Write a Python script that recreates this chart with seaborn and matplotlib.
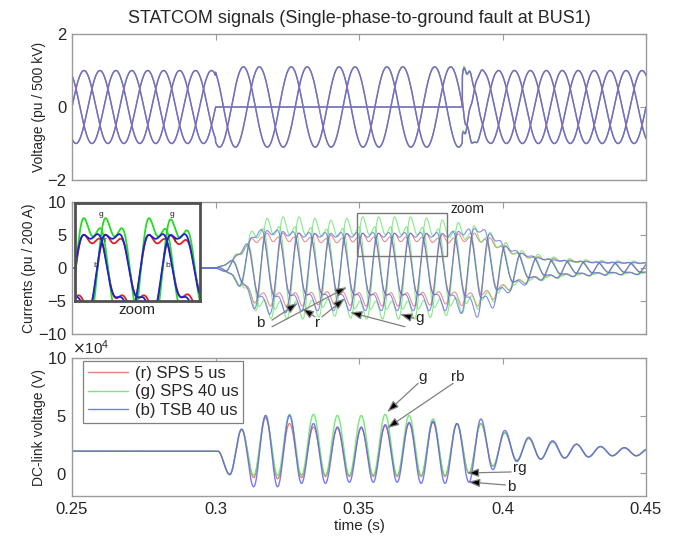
import numpy as np
import pandas as pd
import matplotlib
matplotlib.use("Agg")
import matplotlib.pyplot as plt
import seaborn as sns
from matplotlib.patches import Rectangle
from matplotlib.ticker import ScalarFormatter

sns.set_style("white")
plt.rcParams['font.family'] = ['Liberation Sans', 'DejaVu Sans']

# ------------------------------------------------------------------ data
series_keys = ["r", "g", "b"]
series_names = ["(r) SPS 5 us", "(g) SPS 40 us", "(b) TSB 40 us"]
series_colors = ["#e46a6a", "#5ee65e", "#6262ee"]
title = "STATCOM signals (Single-phase-to-ground fault at BUS1)"
ylabels = ["Voltage (pu / 500 kV)", "Currents (pu / 200 A)", "DC-link voltage (V)"]
xlabel = "time (s)"
xticks = [0.25, 0.30, 0.35, 0.40, 0.45]
xtick_labels = ["0.25", "0.3", "0.35", "0.4", "0.45"]

f_grid = 60.0
t_start, t_end = 0.25, 0.45
fault_on, fault_off = 0.300, 0.386

# bus voltage amplitude per phase (a, b, c)
volt_amp_pre = [1.0, 1.0, 1.0]
volt_amp_fault = [0.0, 1.1, 1.1]
volt_amp_post = [1.0, 1.0, 1.0]
volt_ring = {"r": 0.15, "g": 0.2, "b": 0.15}

# current envelope (pu)
cur_env_t = [0.300, 0.303, 0.306, 0.309, 0.312, 0.315, 0.320, 0.330, 0.340,
             0.350, 0.360, 0.370, 0.380, 0.387, 0.392, 0.397, 0.402, 0.407,
             0.412, 0.418, 0.425, 0.435, 0.450]
cur_env = {
    "g": [0, 0.5, 1.5, 3.0, 5.0, 7.0, 7.5, 7.5, 7.0, 7.5, 7.5, 7.5, 7.0, 6.5,
          6.0, 5.0, 3.5, 2.5, 2.0, 1.6, 1.3, 1.1, 1.0],
    "r": [0, 0.5, 1.5, 3.0, 4.5, 5.5, 5.5, 5.5, 5.2, 5.5, 5.5, 5.5, 5.2, 5.5,
          5.5, 4.5, 3.2, 2.3, 1.8, 1.5, 1.2, 1.0, 0.9],
    "b": [0, 0.5, 1.5, 3.0, 5.0, 6.5, 6.5, 6.0, 6.0, 6.0, 6.0, 6.0, 6.0, 6.5,
          7.0, 5.5, 3.5, 2.5, 1.8, 1.4, 1.2, 1.0, 0.9],
}
cur_harm3 = {"r": 0.28, "g": 0.32, "b": 0.24}
cur_harm3_phase = {"r": 0.2, "g": 0.0, "b": 0.5}

# DC-link voltage extremes (x 1e4 V), alternating trough / peak every half ripple period
dc_ext_t0 = 0.3008
dc_ext = {
    "b": [1.9, -0.15, 3.8, -1.2, 5.0, -1.2, 5.0, -0.9, 4.3, -0.9, 4.0, -0.8, 4.0,
          -0.8, 4.2, -0.8, 4.4, -0.9, 4.5, -0.9, 4.3, -0.8, 4.7, 0.3, 3.7, 1.0,
          3.1, 1.2, 2.8, 1.3, 2.5, 1.4, 2.3, 1.5, 2.2, 1.5, 2.1],
    "r": [1.9, -0.1, 3.8, -0.4, 4.8, -0.5, 4.3, -0.4, 4.0, -0.3, 3.9, -0.3, 3.9,
          -0.3, 4.1, -0.3, 4.3, -0.3, 4.4, -0.3, 4.3, 0.0, 4.3, 0.6, 3.5, 1.1,
          3.0, 1.2, 2.7, 1.3, 2.5, 1.4, 2.3, 1.5, 2.2, 1.5, 2.1],
    "g": [1.9, -0.1, 3.8, -0.2, 5.0, -0.2, 5.1, -0.2, 5.1, -0.2, 5.0, -0.2, 5.0,
          -0.2, 5.1, -0.2, 5.0, -0.2, 4.7, -0.2, 4.3, 0.0, 4.3, 0.6, 3.5, 1.1,
          3.0, 1.2, 2.7, 1.3, 2.5, 1.4, 2.3, 1.5, 2.2, 1.5, 2.1],
}

# ------------------------------------------------------------------ build
t = np.arange(t_start, t_end + 1e-5, 1e-5)
w = 2 * np.pi * f_grid
phase_shift = [0.0, -2 * np.pi / 3, 2 * np.pi / 3]
name_of = dict(zip(series_keys, series_names))
palette = dict(zip(series_names, series_colors))

vrows, irows = [], []
for key in series_keys:
    env = np.interp(t, cur_env_t, cur_env[key])
    for k in range(3):
        amp = np.where(t < fault_on, volt_amp_pre[k],
                       np.where(t < fault_off, volt_amp_fault[k], volt_amp_post[k]))
        v = amp * np.sin(w * t + phase_shift[k])
        after = t >= fault_off
        v[after] += volt_ring[key] * np.exp(-(t[after] - fault_off) / 0.003) * \
            np.sin(2 * np.pi * 450 * (t[after] - fault_off) + k)
        vrows.append(pd.DataFrame({"t": t, "v": v, "series": name_of[key], "phase": k}))
        th = w * t + 0.3 + phase_shift[k]
        wave = np.sin(th) + cur_harm3[key] * np.sin(3 * th + cur_harm3_phase[key]) + 0.1 * np.sin(2 * th)
        irows.append(pd.DataFrame({"t": t, "i": env * wave, "series": name_of[key], "phase": k}))
vdf = pd.concat(vrows, ignore_index=True)
idf = pd.concat(irows, ignore_index=True)


def cos_path(tt, tk, vk):
    out = np.full_like(tt, vk[0])
    for a in range(len(tk) - 1):
        m = (tt >= tk[a]) & (tt < tk[a + 1])
        s = (tt[m] - tk[a]) / (tk[a + 1] - tk[a])
        out[m] = vk[a] + (vk[a + 1] - vk[a]) * (1 - np.cos(np.pi * s)) / 2
    out[tt >= tk[-1]] = vk[-1]
    return out


drows = []
for key in series_keys:
    vk = np.array(dc_ext[key]) * 1e4
    tk = dc_ext_t0 + np.arange(len(vk)) / (2 * 2 * f_grid)
    drows.append(pd.DataFrame({"t": t, "vdc": cos_path(t, tk, vk), "series": name_of[key]}))
ddf = pd.concat(drows, ignore_index=True)

# ------------------------------------------------------------------ figure
fig = plt.figure(figsize=(6.83, 5.41), dpi=100)
L, W = 72 / 683, 574 / 683
ax1 = fig.add_axes([L, 1 - 180 / 541, W, 146 / 541])
ax2 = fig.add_axes([L, 1 - 334 / 541, W, 132 / 541])
ax3 = fig.add_axes([L, 1 - 496 / 541, W, 138 / 541])

spine_col = "#9a9a9a"
for ax in (ax1, ax2, ax3):
    for s in ax.spines.values():
        s.set_color(spine_col)
        s.set_linewidth(1.0)
    ax.tick_params(direction="in", length=4, color=spine_col, top=True, right=True,
                   labelsize=12, pad=4)
    ax.set_xlim(t_start, t_end)
    ax.set_xticks(xticks)

# voltage: green under, blue, red translucent on top -> violet blend like the reference
volt_order = [series_names[1], series_names[2], series_names[0]]
for name, a in zip(volt_order, [1.0, 1.0, 0.25]):
    sns.lineplot(data=vdf[vdf.series == name], x="t", y="v", units="phase", estimator=None,
                 color=palette[name], lw=1.0, alpha=a, legend=False, ax=ax1)
ax1.set_ylim(-2, 2)
ax1.set_yticks([-2, 0, 2])
ax1.set_xticklabels([])
ax1.set_xlabel("")
ax1.set_ylabel(ylabels[0], fontsize=10)
ax1.set_title(title, fontsize=13, pad=8)

sns.lineplot(data=idf, x="t", y="i", hue="series", units="phase", estimator=None,
             hue_order=series_names, palette=palette, lw=0.8, alpha=0.75, legend=False, ax=ax2)
ax2.set_ylim(-10, 10)
ax2.set_yticks([-10, -5, 0, 5, 10])
ax2.set_xticklabels([])
ax2.set_xlabel("")
ax2.set_ylabel(ylabels[1], fontsize=10)

# zoom rectangle + inset
ax2.add_patch(Rectangle((0.3493, 1.82), 0.0314, 6.5, fill=False, ec="#777777", lw=1.0, zorder=5))
ax2.text(0.3818, 8.9, "zoom", fontsize=10, va="center", ha="left")
ax2.text(0.2726, -6.3, "zoom", fontsize=11, va="center", ha="center")

axin = ax2.inset_axes([0.005, 0.25, 0.218, 0.742])
axin.set_facecolor("white")
sub = idf[(idf.t > 0.347) & (idf.t < 0.383) & (idf.phase < 2)]
sns.lineplot(data=sub, x="t", y="i", hue="series",
             units="phase", estimator=None, hue_order=series_names,
             palette={"(r) SPS 5 us": "#e02020", "(g) SPS 40 us": "#22dd22", "(b) TSB 40 us": "#2020d0"},
             lw=1.3, legend=False, ax=axin)
axin.set_xlim(0.349, 0.381)
axin.set_ylim(-4.6, 10)
axin.set_xticks([])
axin.set_yticks([])
axin.set_xlabel("")
axin.set_ylabel("")
for s in axin.spines.values():
    s.set_color("#505050")
    s.set_linewidth(2.0)
for (x, y, s) in [(0.21, 0.88, "g"), (0.24, 0.62, "r"), (0.17, 0.36, "b"),
                  (0.78, 0.88, "g"), (0.80, 0.62, "r"), (0.74, 0.36, "b")]:
    axin.text(x, y, s, transform=axin.transAxes, fontsize=6, ha="center", va="center")

arrow_kw = dict(arrowstyle="-|>,head_length=0.7,head_width=0.25", fc="black", ec="#808080",
                lw=0.9, shrinkA=0, shrinkB=0)
ax2.text(0.3155, -8.4, "b", fontsize=11, ha="center", va="center")
ax2.text(0.3357, -8.4, "r", fontsize=11, ha="center", va="center")
ax2.text(0.3712, -7.6, "g", fontsize=11, ha="center", va="center")
for (xy, xyt) in [((0.3287, -5.3), (0.3197, -7.9)), ((0.3458, -2.9), (0.3197, -8.9)),
                  ((0.3301, -6.1), (0.3347, -7.4)), ((0.3451, -4.6), (0.3371, -7.4)),
                  ((0.3469, -6.7), (0.3660, -8.9)), ((0.3643, -7.0), (0.3690, -7.6))]:
    ax2.annotate("", xy=xy, xytext=xyt, arrowprops=arrow_kw)

sns.lineplot(data=ddf, x="t", y="vdc", hue="series", estimator=None,
             hue_order=series_names, palette=palette, lw=1.0, alpha=0.85, ax=ax3)
ax3.set_ylim(-2e4, 10e4)
ax3.set_yticks([0, 5e4, 10e4])
fmt = ScalarFormatter(useMathText=True)
fmt.set_powerlimits((4, 4))
ax3.yaxis.set_major_formatter(fmt)
ax3.yaxis.get_offset_text().set_fontsize(11)
ax3.set_xticklabels(xtick_labels)
ax3.set_xlabel(xlabel, fontsize=11, labelpad=2)
ax3.set_ylabel(ylabels[2], fontsize=10)
h, lab = ax3.get_legend_handles_labels()
leg = ax3.legend(h, lab, loc="upper left", bbox_to_anchor=(0.019, 0.978), borderaxespad=0,
                 fontsize=12, handlelength=2.4, fancybox=False, framealpha=1,
                 edgecolor="#808080", borderpad=0.3, labelspacing=0.2, handletextpad=0.4)
leg.get_frame().set_linewidth(0.9)

ax3.text(0.3720, 8.35e4, "g", fontsize=11, ha="center", va="center")
ax3.text(0.3845, 8.35e4, "rb", fontsize=11, ha="center", va="center")
ax3.text(0.4060, 0.4e4, "rg", fontsize=11, ha="center", va="center")
ax3.text(0.4030, -1.25e4, "b", fontsize=11, ha="center", va="center")
for (xy, xyt) in [((0.3598, 5.3e4), (0.3706, 7.8e4)), ((0.3598, 3.9e4), (0.3828, 7.8e4)),
                  ((0.3876, 0.0), (0.4030, 0.09e4)), ((0.3880, -0.78e4), (0.4010, -1.04e4))]:
    ax3.annotate("", xy=xy, xytext=xyt, arrowprops=arrow_kw)

ax1.yaxis.set_label_coords(-0.045, 0.5)
ax2.yaxis.set_label_coords(-0.062, 0.5)
ax3.yaxis.set_label_coords(-0.045, 0.5)

fig.savefig("out.png", dpi=100)
